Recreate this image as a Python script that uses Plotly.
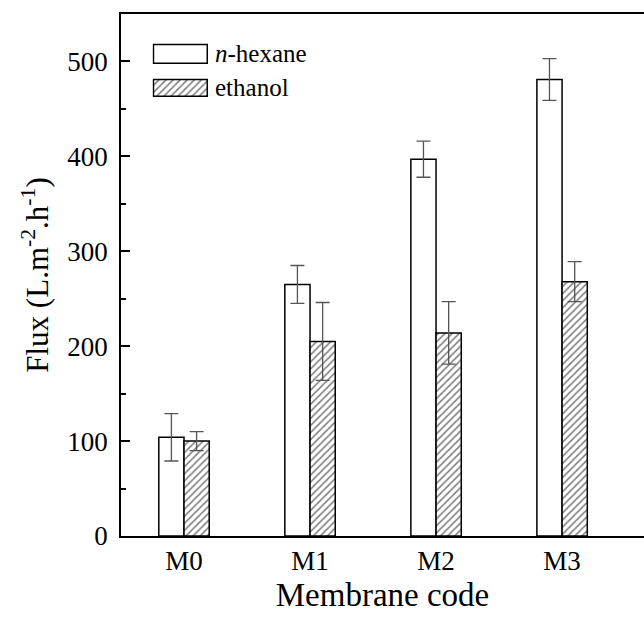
import plotly.graph_objects as go

categories = ["M0", "M1", "M2", "M3"]
hexane = [104, 265, 397, 481]
hexane_err = [25, 20, 19, 22]
ethanol = [100, 205, 214, 268]
ethanol_err = [10, 41, 33, 21]

legend_labels = ["ethanol", "<i>n</i>-hexane"]  # bottom to top
legend_swatch = [1, 1]

FONT = "Liberation Serif, Times New Roman, serif"
OUTLINE = dict(color="black", width=1.5)
HATCH = dict(shape="/", fgcolor="black", bgcolor="white", size=5, solidity=0.32)

fig = go.Figure()
fig.add_trace(go.Bar(
    x=categories, y=hexane, name="<i>n</i>-hexane", showlegend=False,
    marker=dict(color="white", line=OUTLINE),
    error_y=dict(type="data", array=hexane_err, color="#555", thickness=1.3, width=7),
))
fig.add_trace(go.Bar(
    x=categories, y=ethanol, name="ethanol", showlegend=False,
    marker=dict(color="white", line=OUTLINE, pattern=HATCH),
    error_y=dict(type="data", array=ethanol_err, color="#555", thickness=1.3, width=7),
))

# legend swatches drawn in a small inset axis
fig.add_trace(go.Bar(
    x=[legend_swatch[1]], y=[legend_labels[1]], orientation="h", width=0.55,
    xaxis="x2", yaxis="y2", showlegend=False, hoverinfo="skip",
    marker=dict(color="white", line=OUTLINE),
))
fig.add_trace(go.Bar(
    x=[legend_swatch[0]], y=[legend_labels[0]], orientation="h", width=0.5,
    xaxis="x2", yaxis="y2", showlegend=False, hoverinfo="skip",
    marker=dict(color="white", line=OUTLINE, pattern=HATCH),
))
for lab in legend_labels:
    fig.add_annotation(
        x=0.176, xref="paper", xanchor="left", y=lab, yref="y2", yanchor="middle",
        text=lab, showarrow=False, font=dict(family=FONT, size=25, color="black"),
    )

fig.update_layout(
    width=644, height=619,
    margin=dict(l=121, r=0, t=14, b=83),
    paper_bgcolor="white", plot_bgcolor="white",
    barmode="group", bargap=0.6, bargroupgap=0,
    font=dict(family=FONT, color="black", size=25),
    showlegend=False,
    xaxis=dict(
        range=[-0.5, 3.65], showline=True, linecolor="black", linewidth=1.5, mirror=True,
        ticks="", showgrid=False, zeroline=False, tickfont=dict(family=FONT, size=27),
        ticklabelstandoff=0,
        title=dict(text="Membrane code", font=dict(family=FONT, size=33), standoff=8),
    ),
    yaxis=dict(
        range=[0, 550], showline=True, linecolor="black", linewidth=1.5, mirror=False,
        ticks="inside", ticklen=9, tickwidth=1.5, tickcolor="black",
        dtick=100, showgrid=False, zeroline=False,
        minor=dict(ticks="inside", ticklen=5, tickwidth=1.5, tickcolor="black", dtick=50),
        tickfont=dict(family=FONT, size=27), ticklabelstandoff=6,
        title=dict(text="Flux (L.m<sup>-2</sup>.h<sup>-1</sup>)", font=dict(family=FONT, size=31), standoff=9),
    ),
    xaxis2=dict(domain=[0.06, 0.167], range=[-0.02, 1.02], anchor="y2",
                visible=False, fixedrange=True),
    yaxis2=dict(domain=[0.826, 0.956], anchor="x2", type="category",
                categoryorder="array", categoryarray=legend_labels,
                visible=False, fixedrange=True),
)

fig.write_html("out.html")
